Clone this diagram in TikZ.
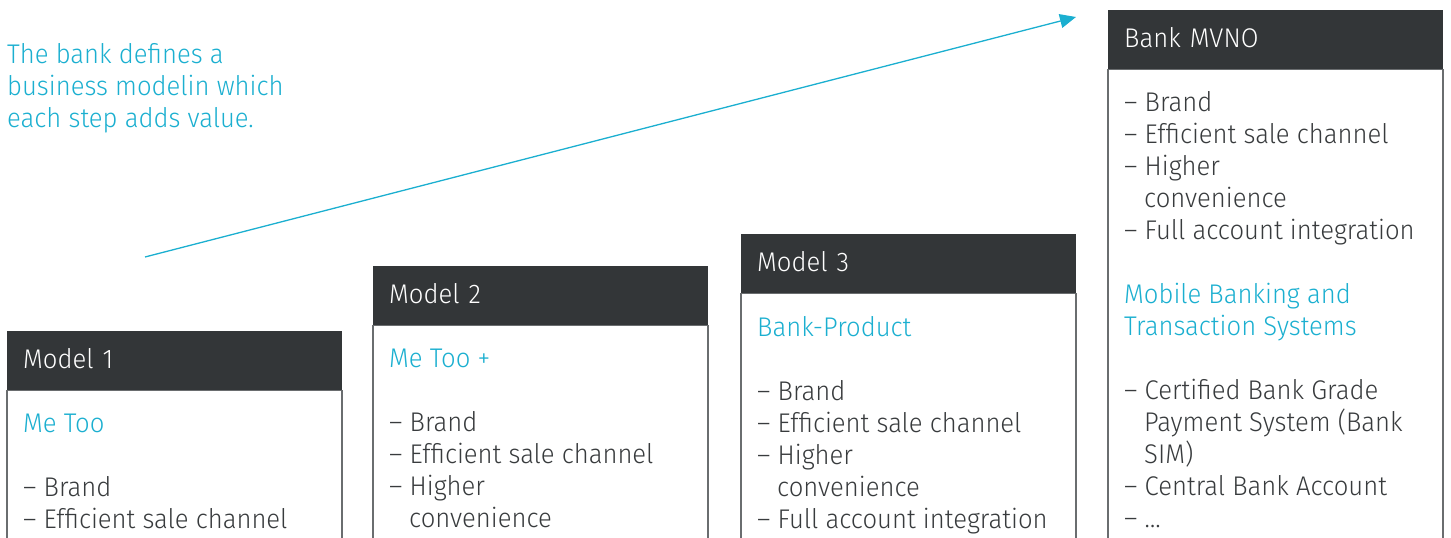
\documentclass[tikz,border=0pt]{standalone}
\usepackage{fontspec}
\setmainfont{Fira Sans Light}[FakeStretch=0.95]
\usetikzlibrary{arrows.meta}

\definecolor{brandcyan}{HTML}{1BAFD0}
\definecolor{headgrey}{HTML}{333638}
\definecolor{textgrey}{HTML}{383B3D}
\definecolor{framegrey}{HTML}{6A6D6F}

\newcommand{\hl}{\color{brandcyan}}
\newcommand{\ind}{\hspace*{20pt}}

\tikzset{
  txt/.style={anchor=base west, inner sep=0pt, text=textgrey,
    font=\fontsize{27}{32}\selectfont},
  head/.style={anchor=north west, fill=headgrey, text=white,
    minimum width=335pt, minimum height=59pt, text width=303pt,
    align=left, inner xsep=16pt, inner ysep=0pt,
    text height=20pt, text depth=4pt, font=\fontsize{27}{32}\selectfont},
  frame/.style={draw=framegrey, line width=1.2pt},
  arr/.style={draw=brandcyan, line width=1.3pt,
    -{Triangle[length=16pt,width=14pt]}}
}

\begin{document}
\begin{tikzpicture}[x=1pt, y=-1pt]
  \useasboundingbox (0,0) rectangle (1451,538);

  \def \Models {
    m1/7/331/Model 1,
    m2/373/266/Model 2,
    m3/741/234/Model 3,
    m4/1108/10/Bank MVNO}
  \def \TextLines {
    in1/7/63/{\hl The bank defines a},
    in2/7/95/{\hl business modelin which},
    in3/7/127/{\hl each step adds value.},
    m1a/23/432/{\hl Me Too},
    m1b/23/496/– Brand,
    m1c/23/528/– Efficient sale channel,
    m2a/389/367/{\hl Me Too +},
    m2b/389/431/– Brand,
    m2c/389/463/– Efficient sale channel,
    m2d/389/495/– Higher,
    m2e/389/527/\ind convenience,
    m3a/757/336/{\hl Bank-Product},
    m3b/757/400/– Brand,
    m3c/757/432/– Efficient sale channel,
    m3d/757/464/– Higher,
    m3e/757/496/\ind convenience,
    m3f/757/528/– Full account integration,
    m4a/1124/111/– Brand,
    m4b/1124/143/– Efficient sale channel,
    m4c/1124/175/– Higher,
    m4d/1124/207/\ind convenience,
    m4e/1124/239/– Full account integration,
    m4f/1124/303/{\hl Mobile Banking and},
    m4g/1124/335/{\hl Transaction Systems},
    m4h/1124/399/– Certified Bank Grade,
    m4i/1124/431/\ind Payment System (Bank,
    m4j/1124/463/\ind SIM),
    m4k/1124/495/– Central Bank Account,
    m4l/1124/527/– \ldots}

  \foreach \id / \x / \y / \name in \Models {
    \node[head] (\id) at (\x, \y) {\name};
    \draw[frame] (\id.south west) rectangle ++(335, 600);
  }
  \foreach \id / \x / \y / \words in \TextLines {
    \node[txt] (\id) at (\x, \y) {\words};
  }

  % growth arrow
  \coordinate (arrstart) at (145, 257);
  \coordinate (arrend) at (1076, 17);
  \path[arr] (arrstart) -- (arrend);
\end{tikzpicture}
\end{document}
